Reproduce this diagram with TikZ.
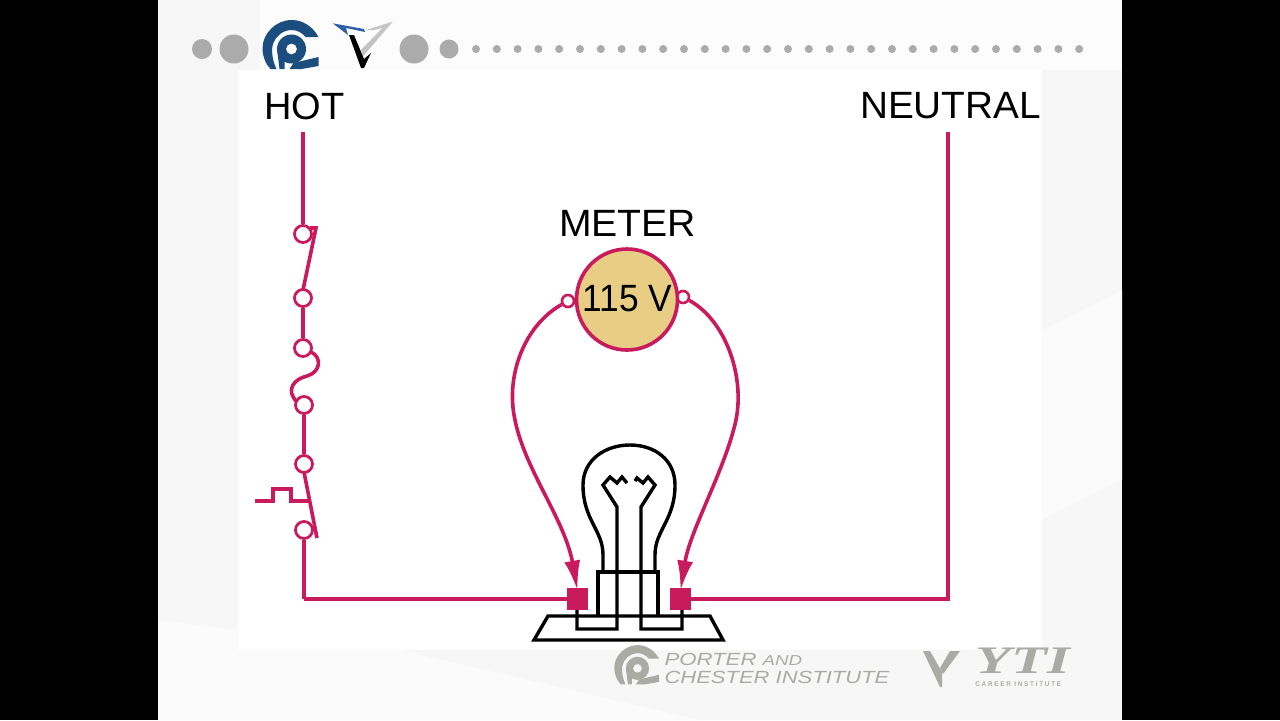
\documentclass[tikz,border=0pt]{standalone}
\usepackage{fontspec}
\setmainfont{Liberation Sans}
\newfontfamily\yttfont{Liberation Serif}
\usetikzlibrary{arrows.meta}
\definecolor{wire}{HTML}{C81A5C}
\definecolor{meterfill}{HTML}{E8CD85}
\definecolor{navy}{HTML}{1B4D7E}
\definecolor{logoblue}{HTML}{2F5FA8}
\definecolor{dotgrey}{HTML}{ABABAB}
\definecolor{footgrey}{HTML}{ABABA5}
\definecolor{bggrey}{HTML}{F7F7F7}
\begin{document}
\begin{tikzpicture}[x=0.5pt,y=-0.5pt]
    \tikzset{%
      wireline/.style={wire, line width=1.8pt},
      term/.style={circle, draw=wire, line width=1.4pt, fill=white, inner sep=0pt, minimum width=8.5pt},
      smallterm/.style={circle, draw=wire, line width=1.3pt, fill=white, inner sep=0pt, minimum width=6pt},
      pad/.style={rectangle, fill=wire, inner sep=0pt, minimum width=10.5pt, minimum height=11pt},
      lamp/.style={black, line width=1.7pt},
      bigdot/.style={circle, fill=dotgrey, inner sep=0pt, minimum width=#1},
      label/.style={black, inner sep=0pt, font=\fontsize{19}{19}\selectfont},
      foot/.style={footgrey, inner sep=0pt, anchor=base west, transform shape},
      pics/pclogo/.style={code={
        \fill[#1] (27,-12) .. controls (21,-23) and (11,-29) .. (0,-29)
          .. controls (-16,-29) and (-29,-15) .. (-29,-1)
          .. controls (-29,7) and (-26,15) .. (-21,20) -- (-15,20)
          .. controls (-19,12) and (-20,3) .. (-19,-3)
          .. controls (-17,-12) and (-9,-19) .. (0,-19)
          .. controls (6,-19) and (11,-16) .. (14,-12) -- cycle;
        \fill[#1, even odd rule] (0,0) circle (14.5) (0,0) circle (5.5);
        \fill[#1] (-14.5,0) -- (-7,0) -- (-7,20) -- (-12,20) -- cycle;
        \fill[#1] (2,14) -- (27,8) -- (27,17) -- (10,20) -- (-2,20) -- cycle;
      }},
    }
    \useasboundingbox (0,0) rectangle (1280,720);
    % page
    \fill[black] (0,0) rectangle (1280,720);
    \fill[bggrey] (158,0) rectangle (1122,720);
    \fill[white!60!bggrey] (260,0) -- (1122,0) -- (1122,70) -- (260,70) -- cycle;
    \fill[white!50!bggrey] (158,720) -- (158,620) -- (400,650) -- (700,720) -- cycle;
    \fill[white!50!bggrey] (1042,330) -- (1122,290) -- (1122,480) -- (1042,520) -- cycle;
    \fill[white] (238,70) rectangle (1042,650);

    % dots
    \node[bigdot=10pt] (D1) at (202,49) {};
    \node[bigdot=14.5pt] (D2) at (234,49) {};
    \node[bigdot=14.5pt] (D3) at (414,49) {};
    \node[bigdot=9.5pt] (D4) at (449,49) {};
    \foreach \i in {0,...,29}
      \node[bigdot=4pt] (S\i) at (476+20.8*\i,49) {};

    % logos
    \pic at (291.5,49) {pclogo=navy};
    \fill[logoblue] (332.7,23.3) -- (364,29) -- (365,32) -- (346,28) -- (348,35) -- cycle;
    \fill[dotgrey!70] (392.7,21.7) -- (366,30) -- (374,30) -- (382.7,27.7) -- (361,50) -- (362.7,56.7) -- cycle;
    \fill[black] (349,35) -- (354,35) -- (364,59) -- (371,53) -- (364,68) -- (361,68) -- cycle;

    % hot side
    \node[label] (HOT) at (304.5,106) {HOT};
    \coordinate (H0) at (303,132);
    \node[term] (A) at (303,234) {};
    \node[term] (B) at (303,298) {};
    \node[term] (C) at (303,348) {};
    \node[term] (E) at (304,405) {};
    \node[term] (F) at (304,464) {};
    \node[term] (G) at (304,530) {};
    \coordinate (H1) at (304,599);
    \draw[wireline] (H0) -- (A);
    \draw[wireline] (B) -- (C);
    \draw[wireline] (E) -- (F);
    \draw[wireline] (G) -- (H1);
    % switch
    \draw[wireline] (310,228) -- (316,228) -- (303,290);
    % fuse
    \draw[wireline] (311,352) .. controls (322,357) and (321,372) .. (307,376)
       .. controls (294,379) and (285,390) .. (297,402);
    % breaker
    \draw[wireline] (304,472) -- (317,538);
    \draw[wireline] (255,501) -- (273,501) -- (273,489) -- (291,489) -- (291,501) -- (308,501);

    % neutral side
    \node[label, xscale=1.02, transform shape] (NEUTRAL) at (950.5,106) {NEUTRAL};
    \coordinate (N0) at (948,132);
    \coordinate (N1) at (948,599);
    \draw[wireline] (H1) -- (577,599);
    \draw[wireline] (680,599) -- (N1) -- (N0);

    % meter
    \node[label, xscale=1.03, transform shape] (METER) at (627.5,223) {METER};
    \node[smallterm] (ML) at (568,301) {};
    \node[smallterm] (MR) at (683,297) {};
    \node[circle, draw=wire, line width=1.8pt, fill=meterfill, inner sep=0pt, minimum width=50.5pt] (M) at (627,299.5) {};
    \node[label, xscale=0.93, transform shape] (V) at (627.5,299) {115 V};
    \node[pad] (PL) at (577.5,599) {};
    \node[pad] (PR) at (680.5,599) {};
    \draw[wireline, -{Latex[length=15pt,width=8pt]}] (ML) .. controls (525,325) and (505,375) .. (515,420)
       .. controls (525,470) and (565,520) .. ([yshift=-1.5pt]PL.north);
    \draw[wireline, -{Latex[length=15pt,width=8pt]}] (MR) .. controls (725,320) and (745,375) .. (736,420)
       .. controls (725,470) and (690,530) .. ([yshift=-1.5pt]PR.north);

    % lamp
    \draw[lamp] (603,572) -- (603,555) .. controls (603,530) and (583,520) .. (583,485)
       .. controls (583,460) and (605,445) .. (630,445)
       .. controls (655,445) and (675,460) .. (675,485)
       .. controls (675,520) and (655,530) .. (655,555) -- (655,572);
    \draw[lamp] (598,616) -- (598,572) -- (658,572) -- (658,616);
    \draw[lamp] (577,610) -- (577,629) -- (617,629) -- (617,507) -- (603,485) -- (610,477) -- (617,483) -- (622,477) -- (627,483);
    \draw[lamp] (682,610) -- (682,629) -- (641,629) -- (641,507) -- (655,485) -- (648,477) -- (643,483) -- (637,478) -- (635,481);
    \draw[lamp] (548,616) -- (710,616) -- (723,640) -- (534,640) -- cycle;

    % footer
    \pic[scale=0.8] at (637.5,668.3) {pclogo=footgrey};
    \node[foot, xscale=1.26, font=\itshape\fontsize{8.8}{9}\selectfont] (PORTER) at (664,665) {PORTER};
    \node[foot, xscale=1.3, font=\itshape\fontsize{7.2}{9}\selectfont] (AND) at (762,665) {AND};
    \node[foot, xscale=1.25, font=\itshape\fontsize{8.8}{9}\selectfont] (CHESTER) at (664,683) {CHESTER INSTITUTE};
    \fill[footgrey] (923,651) -- (930,651) -- (942,672) -- (942,687) -- (940,687) -- cycle;
    \fill[footgrey] (960,651) -- (950,651) -- (940,668) -- (943,674) -- cycle;
    \node[foot, xscale=1.5, font=\yttfont\bfseries\itshape\fontsize{19.5}{20}\selectfont] (YTI) at (975,673) {YTI};
    \node[foot, xscale=0.93, font=\fontsize{3.4}{4}\selectfont\bfseries] (CAREER) at (975,686) {C A R E E R\ \ I N S T I T U T E};
\end{tikzpicture}
\end{document}
